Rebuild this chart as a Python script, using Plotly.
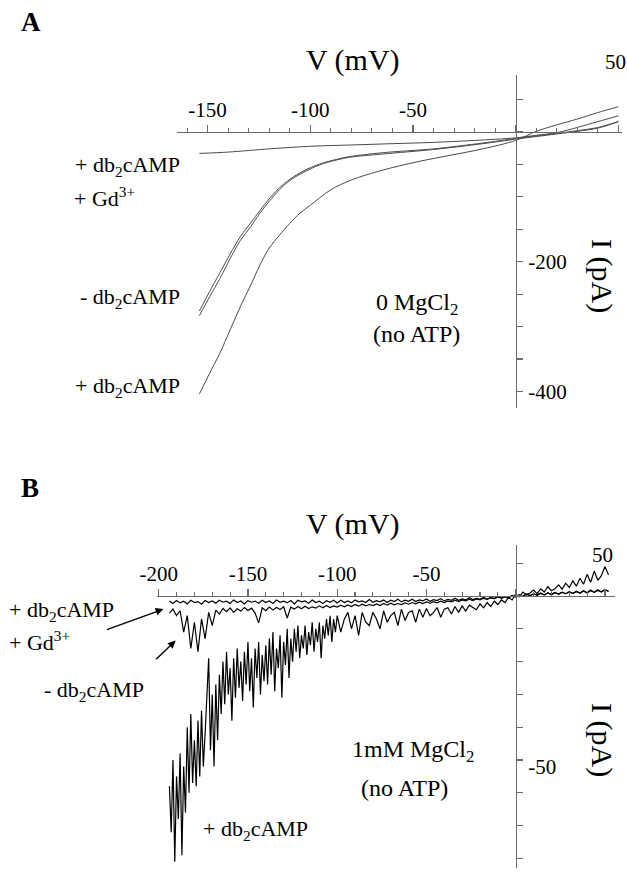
import plotly.graph_objects as go

W, H = 627, 873

# ---------------- Panel A : 0 MgCl2 (no ATP) ----------------
A_V_plus = [-154, -149, -144, -139, -134, -129, -124.5, -120, -115, -110, -105, -100,
            -90, -80, -65, -48, -32, -16, 0, 10, 20, 30, 40, 50]
A_I_plus = [-404, -372, -341, -305, -269, -236, -205, -179, -159, -141, -125, -113,
            -89, -74, -59, -46, -36, -26, -13, 1, 11, 20, 30, 39]

A_V_minus = [-154, -149, -144, -139, -134, -129, -124.5, -120, -115, -110, -105, -100,
             -94, -87, -81, -65, -40, -16, 0, 10, 20, 30, 40, 50]
A_I_minus1 = [-283, -254, -226, -195, -167, -146, -125, -107, -89, -75, -65, -57,
              -49, -43, -39, -34, -27, -18, -11, -7, -3, 1, 6, 16]
A_I_minus2 = [-276, -246, -217, -188, -161, -140, -121, -103, -86, -73, -63, -55,
              -48, -42, -38, -32, -26, -17, -10, -6, -2, 2, 7, 16]

A_V_gd = [-154, -140, -120, -100, -80, -60, -40, -20, 0, 10, 20, 30, 40, 50]
A_I_gd = [-33, -31, -26, -22, -20, -18, -16, -13, -9, -5, -1, 7, 16, 25]

A_xtickvals = [-150, -100, -50, 0, 50]
A_xticktext = ["-150", "-100", "-50", "", ""]
A_ytickvals = [50, 0, -50, -100, -150, -200, -250, -300, -350, -400]
A_yticktext = ["", "", "", "", "", "-200", "", "", "", "-400"]

# ---------------- Panel B : 1mM MgCl2 (no ATP) ----------------
B_V_plus = list(range(-194, -100)) + list(range(-100, 53, 2))
B_I_plus = [
    # -194 .. -187
    -58, -72, -50, -81, -55, -68, -48, -79,
    # -186 .. -181
    -52, -66, -40, -60, -36, -57,
    # -180 .. -166
    -44, -58, -38, -55, -35, -52, -42, -28, -19, -47, -30, -52, -27, -44, -24,
    # -165 .. -155
    -36, -20, -33, -17, -30, -22, -38, -19, -31, -16, -28,
    # -154 .. -140
    -20, -32, -17, -27, -14, -29, -19, -34, -16, -25, -14, -30, -18, -26, -15,
    # -139 .. -127
    -27, -13, -24, -11, -29, -16, -22, -12, -31, -14, -21, -10, -25,
    # -126 .. -101
    -13, -20, -10, -17, -9, -19, -12, -16, -9, -18, -11, -15, -8, -17, -10, -14,
    -8, -19, -9, -13, -7, -12, -6, -14, -7, -11,
    # -100 .. -2 (step 2)
    -6, -11, -7, -5, -10, -6, -12, -5, -8, -9, -5, -7, -10, -4.5, -8, -6, -5, -9,
    -4, -7.5, -5, -4.5, -8, -4, -6.5, -3.8, -6, -5, -3.5, -6.5, -4, -3.6, -5.5, -3.2,
    -5, -3, -4.6, -2.8, -3.4, -4.2, -2.4, -3.6, -2, -3.2, -1.6, -2.6, -1.2, -2, -0.4,
    -1.2,
    # 0 .. 52 (step 2)
    0.6, -0.3, 1.2, 0.4, 0.9, 1.8, 0.7, 2.2, 1.2, 2.9, 1.6, 2.2, 3.4, 2.1, 3.9, 2.6,
    4.6, 3, 5.4, 3.6, 6.6, 4.2, 7.6, 4.8, 6.2, 9, 6.5,
]

B_V = list(range(-194, 53, 2))
B_I_gd = [
    -1.5, -2.3, -1.4, -2.1, -1.6, -2.4, -1.3, -2.0, -1.7, -2.5, -1.4, -2.0, -1.5, -2.2,
    -1.3, -1.9, -1.6, -2.3, -1.2, -2.0, -1.5, -2.4, -1.4, -1.9, -1.6, -2.2, -1.3, -2.0,
    -1.5, -2.3, -1.2, -1.9, -1.6, -2.1, -1.4, -2.4, -1.3, -1.8, -1.5, -2.2, -1.2, -2.0,
    -1.6, -2.3, -1.4, -1.9, -1.3, -2.1,
    -1.3, -2.0, -1.5, -2.1, -1.2, -1.8, -1.5, -2.0, -1.1, -1.9,
    -1.4, -1.8, -1.2, -2.0, -1.3, -1.7, -1.0, -1.8, -1.3, -1.6,
    -1.0, -1.7, -1.2, -1.5, -0.9, -1.6, -1.1, -1.4, -0.8, -1.5,
    -1.0, -1.3, -0.7, -1.3, -0.9, -1.2, -0.5, -1.1, -0.7, -1.0,
    -0.4, -0.9, -0.5, -0.8, -0.2, -0.7, -0.3, -0.5, 0.0,
    -0.3, 0.4, -0.1, 0.6, 0.1, 0.7, 0.2, 0.9, 0.3, 1.0, 0.4, 1.1, 0.5, 1.2, 0.7, 1.3,
    0.8, 1.5, 0.9, 1.6, 1.0, 1.8, 1.1, 1.9, 1.2, 2.0, 1.4,
]
B_I_minus = [
    -5.2, -4.0, -6.0, -4.5, -11, -6, -16, -8, -17, -7, -13, -5, -9, -4.3, -5.5, -3.8,
    -4.8, -3.6, -5.0, -3.9, -4.6, -3.5, -4.4, -3.7, -5.2, -8.2, -3.6, -4.5, -3.4, -4.3,
    -3.5, -4.1, -3.3, -6.7, -3.4, -4.0, -3.2, -3.9, -3.1, -3.8, -3.3, -3.7, -3.0, -3.6,
    -2.9, -3.5, -3.0, -3.4,
    -2.8, -3.3, -2.7, -3.2, -2.6, -3.1, -2.5, -3.0, -2.6, -2.9,
    -2.4, -2.9, -2.3, -2.8, -2.2, -2.7, -2.3, -2.6, -2.1, -2.5,
    -2.0, -2.4, -1.9, -2.3, -1.8, -2.2, -1.7, -2.1, -1.6, -2.0,
    -1.5, -1.8, -1.3, -1.7, -1.2, -1.5, -1.0, -1.4, -0.9, -1.2,
    -0.7, -1.0, -0.5, -0.8, -0.3, -0.6, -0.1, -0.4, 0.1,
    -0.2, 0.3, 0.0, 0.5, 0.1, 0.6, 0.3, 0.8, 0.4, 0.9, 0.5, 1.0, 0.6, 1.1, 0.7, 1.2,
    0.8, 1.3, 0.9, 1.5, 1.0, 1.6, 1.1, 1.7, 1.3, 1.9, 1.5,
]

B_xtickvals = [-200, -150, -100, -50, 0, 50]
B_xticktext = ["-200", "-150", "-100", "-50", "", ""]
B_ytickvals = [10, 0, -10, -20, -30, -40, -50, -60, -70, -80]
B_yticktext = ["", "", "", "", "", "", "-50", "", "", ""]

# ---------------- helpers ----------------
SERIF = "Liberation Serif"
AXC = "#6a6a6a"


def px(x):
    return x / W


def py(y):
    return 1 - y / H


fig = go.Figure()

gray = "#4a4a4a"
for v, i in [(A_V_gd, A_I_gd), (A_V_minus, A_I_minus1), (A_V_minus, A_I_minus2),
             (A_V_plus, A_I_plus)]:
    fig.add_trace(go.Scatter(x=v, y=i, mode="lines", xaxis="x", yaxis="y",
                             line=dict(color=gray, width=1, shape="spline", smoothing=0.9),
                             hoverinfo="skip", showlegend=False))

for v, i in [(B_V, B_I_gd), (B_V, B_I_minus), (B_V_plus, B_I_plus)]:
    fig.add_trace(go.Scatter(x=v, y=i, mode="lines", xaxis="x2", yaxis="y2",
                             line=dict(color="black", width=1.2),
                             hoverinfo="skip", showlegend=False))


def xaxis_cfg(rng, dom, pos, tv, tt):
    return dict(range=rng, domain=dom, anchor="free", position=pos, side="top",
                automargin=False,
                showline=True, linecolor=AXC, linewidth=1.3,
                ticks="outside", ticklen=7, tickwidth=1.2, tickcolor=AXC,
                tickvals=tv, ticktext=tt,
                tickfont=dict(family=SERIF, size=21, color="black"),
                minor=dict(ticks="outside", ticklen=4, tickwidth=1.1, tickcolor=AXC,
                           tick0=0, dtick=10, showgrid=False),
                showgrid=False, zeroline=False, fixedrange=True)


def yaxis_cfg(rng, dom, pos, tv, tt):
    return dict(range=rng, domain=dom, anchor="free", position=pos, side="right",
                automargin=False,
                showline=True, linecolor=AXC, linewidth=1.3,
                ticks="outside", ticklen=6, tickwidth=1.2, tickcolor=AXC,
                tickvals=tv, ticktext=tt, ticklabelstandoff=1,
                tickfont=dict(family=SERIF, size=21, color="black"),
                showgrid=False, zeroline=False, fixedrange=True)


# Panel A geometry
A_x0, A_sx = 515.7, 2.054       # pixel of V=0, px per mV
A_y0, A_sy = 132.0, 0.6485      # pixel of I=0, px per pA
A_xr = [-165, 51.6]
A_yr = [(A_y0 - 408) / A_sy, (A_y0 - 75) / A_sy]
# Panel B geometry
B_x0, B_sx = 515.7, 1.785
B_y0, B_sy = 596.0, 3.28
B_xr = [-201, 55.6]
B_yr = [(B_y0 - 868) / B_sy, (B_y0 - 545) / B_sy]

fig.update_layout(
    template="none",
    xaxis=xaxis_cfg(A_xr, [px(A_x0 + A_xr[0] * A_sx), px(A_x0 + A_xr[1] * A_sx)],
                    py(A_y0), A_xtickvals, A_xticktext),
    yaxis=yaxis_cfg(A_yr, [py(408), py(75)], px(A_x0), A_ytickvals, A_yticktext),
    xaxis2=xaxis_cfg(B_xr, [px(B_x0 + B_xr[0] * B_sx), px(B_x0 + B_xr[1] * B_sx)],
                     py(B_y0), B_xtickvals, B_xticktext),
    yaxis2=yaxis_cfg(B_yr, [py(868), py(545)], px(B_x0), B_ytickvals, B_yticktext),
)
fig.layout.yaxis2.ticklabelshift = 7


def note(x, y, text, size=22, bold=False, angle=0):
    t = f"<b>{text}</b>" if bold else text
    return dict(x=px(x), y=py(y), xref="paper", yref="paper", text=t, showarrow=False,
                xanchor="center", yanchor="middle", textangle=angle,
                font=dict(family=SERIF, size=size, color="black"))


ann = [
    note(31, 22, "A", 27, bold=True),
    note(353, 60, "V (mV)", 30),
    note(615, 62, "50", 21),
    note(602, 276, "I (pA)", 30, angle=90),
    note(127, 166, "+ db<sub>2</sub>cAMP"),
    note(104, 197, "+ Gd<sup>3+</sup>"),
    note(130, 298, "- db<sub>2</sub>cAMP"),
    note(127, 387, "+ db<sub>2</sub>cAMP"),
    note(417, 304, "0 MgCl<sub>2</sub>", 24),
    note(416, 334, "(no ATP)", 24),

    note(30, 488, "B", 27, bold=True),
    note(353, 524, "V (mV)", 30),
    note(602, 555, "50", 21),
    note(602, 740, "I (pA)", 30, angle=90),
    note(62, 611, "+ db<sub>2</sub>cAMP"),
    note(39, 641, "+ Gd<sup>3+</sup>"),
    note(94, 691, "- db<sub>2</sub>cAMP"),
    note(255, 830, "+ db<sub>2</sub>cAMP"),
    note(413, 751, "1mM MgCl<sub>2</sub>", 24),
    note(404, 788, "(no ATP)", 24),
]

# arrows pointing to the two small traces of panel B
ann.append(dict(x=-197.4, y=-4.0, xref="x2", yref="y2", ax=-58, ay=21, text="",
                showarrow=True, arrowhead=2, arrowsize=1.1, arrowwidth=1.4,
                arrowcolor="black"))
ann.append(dict(x=-190.5, y=-13.6, xref="x2", yref="y2", ax=-21, ay=20, text="",
                showarrow=True, arrowhead=2, arrowsize=1.1, arrowwidth=1.4,
                arrowcolor="black"))

fig.update_layout(
    annotations=ann,
    width=W, height=H, autosize=False,
    margin=dict(l=0, r=0, t=0, b=0, pad=0),
    paper_bgcolor="white", plot_bgcolor="rgba(0,0,0,0)",
    showlegend=False,
)

fig.write_html("out.html", include_plotlyjs=True,
               config={"displayModeBar": False, "staticPlot": True},
               post_script="document.body.style.margin='0';")
